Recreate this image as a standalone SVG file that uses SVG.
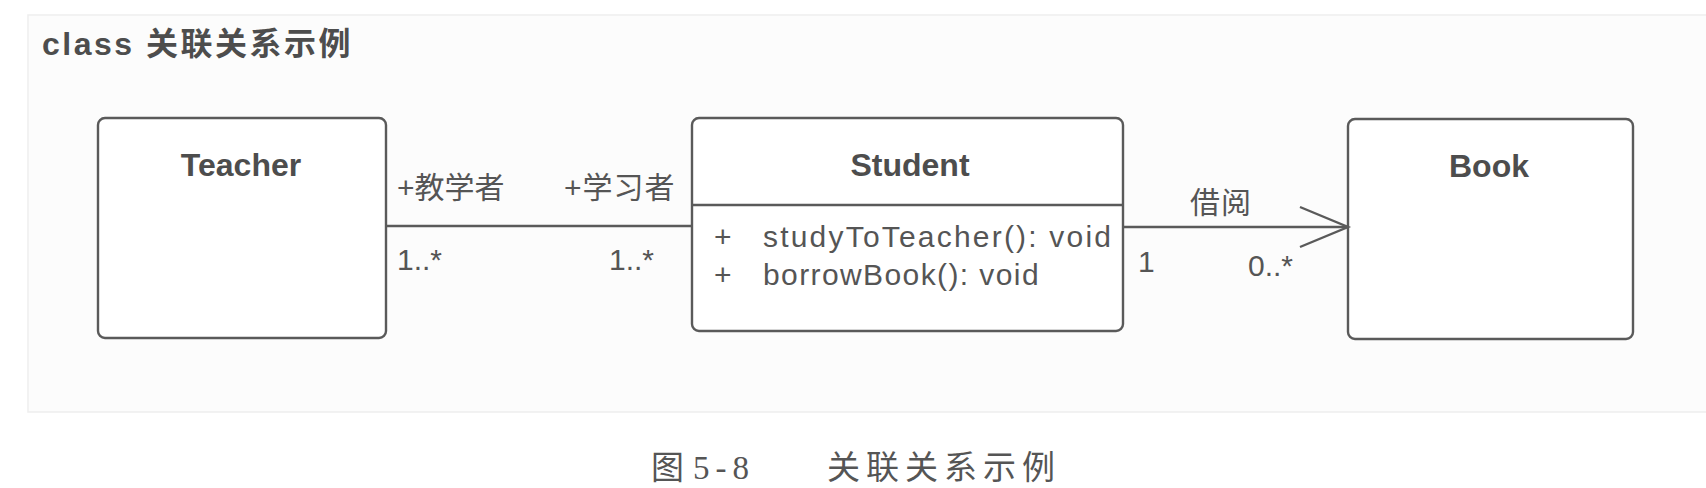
<svg xmlns="http://www.w3.org/2000/svg" width="1706" height="488" viewBox="0 0 1706 488">
<style>
.box{fill:#fff;stroke:#5a5a5a;stroke-width:2.4}
.ln{stroke:#5a5a5a;stroke-width:2.4;fill:none}
.t{font-family:"Liberation Sans","Noto Sans CJK SC",sans-serif;font-size:30px;fill:#555}
.b{font-weight:bold;font-size:32px;fill:#4d4d4d}
.cap{font-family:"Liberation Serif","Noto Sans CJK SC",serif;font-size:33px;fill:#555}
</style>
<rect width="1706" height="488" fill="#fff"/>
<rect x="28" y="15" width="1690" height="397" fill="#fcfcfc" stroke="#eeeeee" stroke-width="1.5"/>
<text class="t b" x="42" y="55" letter-spacing="2.5">class 关联关系示例</text>
<g id="teacher">
<rect class="box" x="98" y="118" width="288" height="220" rx="7"/>
<text class="t b" x="241" y="176" text-anchor="middle">Teacher</text>
</g>
<g id="student">
<rect class="box" x="692" y="118" width="431" height="213" rx="7"/>
<line class="ln" x1="692" y1="205" x2="1123" y2="205"/>
<text class="t b" x="910" y="176" text-anchor="middle">Student</text>
<text class="t" x="714" y="247">+</text>
<text class="t" x="763" y="247" letter-spacing="2.2">studyToTeacher(): void</text>
<text class="t" x="714" y="285">+</text>
<text class="t" x="763" y="285" letter-spacing="1.4">borrowBook(): void</text>
</g>
<g id="book">
<rect class="box" x="1348" y="119" width="285" height="220" rx="7"/>
<text class="t b" x="1489" y="177" text-anchor="middle">Book</text>
</g>
<g id="connectors">
<line class="ln" x1="386" y1="226" x2="692" y2="226"/>
<line class="ln" x1="1123" y1="227" x2="1348" y2="227"/>
<polyline class="ln" points="1300,207 1348,227 1300,247"/>
<text class="t" x="397" y="198">+教学者</text>
<text class="t" x="564" y="198" letter-spacing="1">+学习者</text>
<text class="t" x="397" y="270">1..*</text>
<text class="t" x="609" y="270">1..*</text>
<text class="t" x="1190" y="213" letter-spacing="1">借阅</text>
<text class="t" x="1138" y="272">1</text>
<text class="t" x="1248" y="276">0..*</text>
</g>
<text class="cap" x="651" y="479">图</text>
<text class="cap" x="693" y="479" letter-spacing="6">5-8</text>
<text class="cap" x="827" y="479" letter-spacing="6">关联关系示例</text>
</svg>
